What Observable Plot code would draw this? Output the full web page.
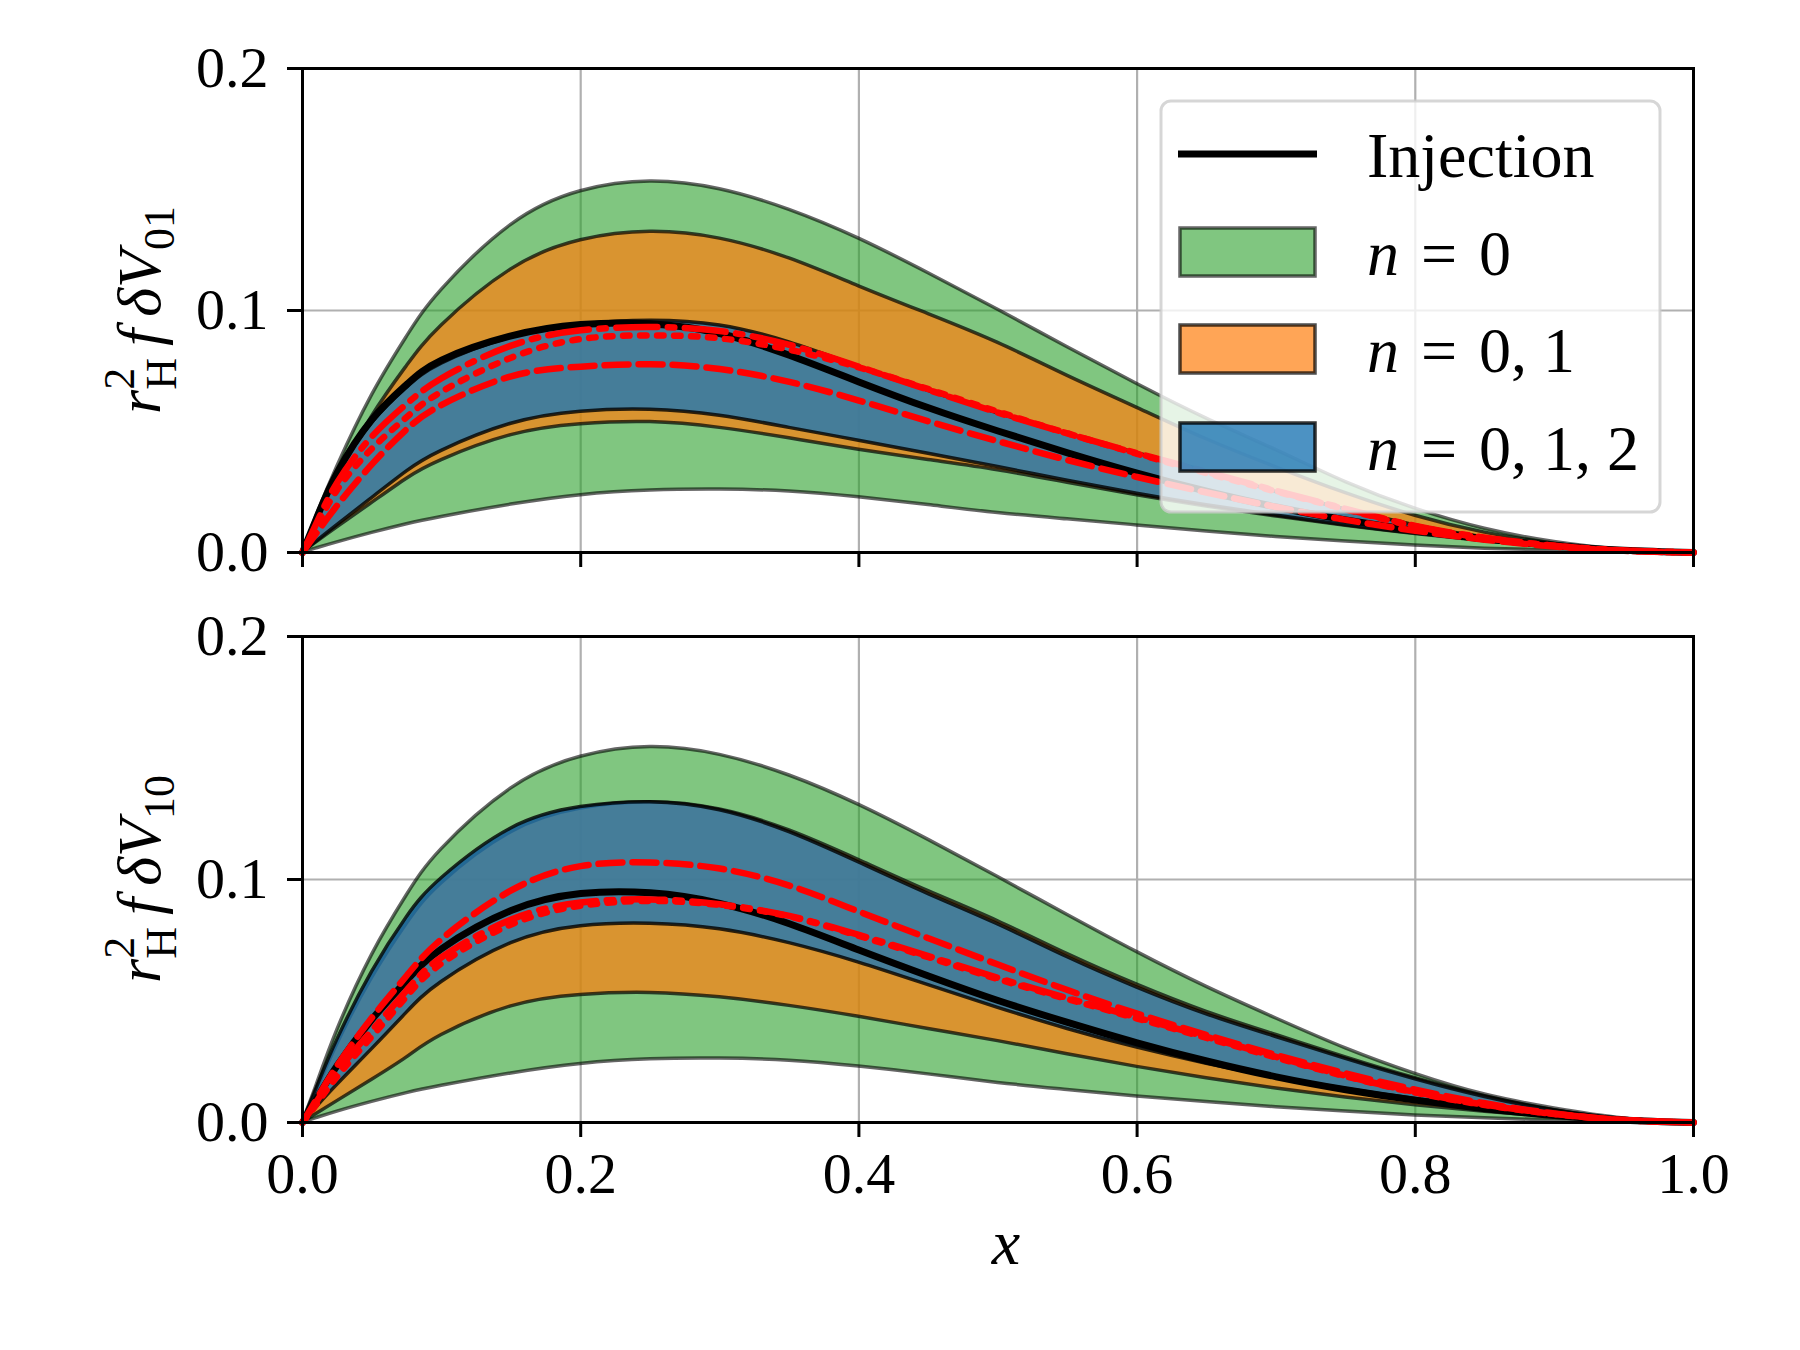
<!DOCTYPE html>
<html><head><meta charset="utf-8">
<script src="https://cdn.jsdelivr.net/npm/d3@7"></script>
<script src="https://cdn.jsdelivr.net/npm/@observablehq/plot@0.6"></script>
<style>
body{margin:0;background:#fff;}
#fig{position:relative;width:1800px;height:1350px;background:#fff;}
#fig svg{position:absolute;left:0;}
</style></head><body><div id="fig"></div>
<script>
// ---- data ----
const xs = [0, 0.01, 0.025, 0.05, 0.075, 0.1, 0.15, 0.2, 0.25, 0.3, 0.35, 0.4, 0.45, 0.5, 0.55, 0.6, 0.65, 0.7, 0.75, 0.8, 0.85, 0.9, 0.95, 1.0];
const xTicks = [0, 0.2, 0.4, 0.6, 0.8, 1.0];
const yTicks = [0, 0.1, 0.2];

// upper panel, delta V_01
const greenHi01  = [0, 0.0149, 0.0354, 0.065, 0.0891, 0.1085, 0.1354, 0.1493, 0.1533, 0.1501, 0.1416, 0.1297, 0.1154, 0.1003, 0.0848, 0.0696, 0.0553, 0.0423, 0.0291, 0.0181, 0.0098, 0.0043, 0.0011, 0];
const greenLo01  = [0, 0.0017, 0.0042, 0.0081, 0.0117, 0.0147, 0.0198, 0.0237, 0.0256, 0.0260, 0.0252, 0.0228, 0.0196, 0.0163, 0.0137, 0.0112, 0.0087, 0.0064, 0.0045, 0.0029, 0.0016, 0.0008, 0.0002, 0];
const orangeHi01 = [0, 0.0129, 0.0306, 0.0562, 0.077, 0.0938, 0.117, 0.129, 0.1325, 0.1297, 0.1215, 0.110, 0.0985, 0.0866, 0.073, 0.0598, 0.0468, 0.0352, 0.0245, 0.0152, 0.0082, 0.0036, 0.0009, 0];
const orangeLo01 = [0, 0.0042, 0.0104, 0.0205, 0.0305, 0.0382, 0.0485, 0.053, 0.0539, 0.0515, 0.0472, 0.0425, 0.0382, 0.034, 0.0288, 0.0236, 0.019, 0.0149, 0.011, 0.0076, 0.0046, 0.0021, 0.0006, 0];
const blueHi01   = [0, 0.0135, 0.032, 0.0535, 0.068, 0.078, 0.0888, 0.0942, 0.0958, 0.0938, 0.0868, 0.0768, 0.0668, 0.0575, 0.049, 0.041, 0.0335, 0.025, 0.0178, 0.0112, 0.0062, 0.0029, 0.0008, 0];
const blueLo01   = [0, 0.0045, 0.0113, 0.0225, 0.0335, 0.042, 0.0532, 0.0582, 0.059, 0.0565, 0.0515, 0.0462, 0.0408, 0.0353, 0.0297, 0.0243, 0.0195, 0.0153, 0.0113, 0.0078, 0.0047, 0.0022, 0.0006, 0];
const injection01 = [0, 0.014, 0.033, 0.055, 0.0695, 0.0795, 0.0895, 0.0942, 0.0945, 0.0905, 0.0815, 0.0705, 0.0598, 0.0502, 0.0412, 0.0328, 0.0253, 0.0188, 0.0135, 0.0092, 0.0057, 0.0029, 0.0009, 0];
const dashed01   = [0, 0.008, 0.0195, 0.0365, 0.051, 0.061, 0.0728, 0.0768, 0.0778, 0.0758, 0.0705, 0.0628, 0.0542, 0.046, 0.0382, 0.0312, 0.0248, 0.0188, 0.0135, 0.009, 0.0053, 0.0025, 0.0007, 0];
const dotted01   = [0, 0.0105, 0.026, 0.043, 0.056, 0.0665, 0.0805, 0.0882, 0.0897, 0.0885, 0.0838, 0.0765, 0.0675, 0.0582, 0.0492, 0.0408, 0.0328, 0.0252, 0.0178, 0.0108, 0.006, 0.0028, 0.0008, 0];
const dashdot01  = [0, 0.012, 0.029, 0.048, 0.0615, 0.072, 0.0855, 0.0918, 0.0932, 0.0915, 0.0858, 0.0768, 0.0672, 0.0578, 0.0492, 0.041, 0.0333, 0.0255, 0.018, 0.011, 0.0061, 0.0028, 0.0008, 0];

// lower panel, delta V_10
const greenHi10  = [0, 0.0151, 0.038, 0.069, 0.0935, 0.1125, 0.1375, 0.1505, 0.1545, 0.1513, 0.1428, 0.1307, 0.1163, 0.101, 0.0854, 0.0701, 0.0558, 0.0428, 0.0305, 0.020, 0.0115, 0.0058, 0.0017, 0];
const greenLo10  = [0, 0.0018, 0.0045, 0.0085, 0.0121, 0.0151, 0.0202, 0.0241, 0.026, 0.0263, 0.0254, 0.0230, 0.0198, 0.0163, 0.0134, 0.0107, 0.0084, 0.0063, 0.0045, 0.0029, 0.0017, 0.0008, 0.0002, 0];
const orangeHi10 = [0, 0.0128, 0.0322, 0.0595, 0.0818, 0.0985, 0.1195, 0.1292, 0.1318, 0.1288, 0.1202, 0.108, 0.0952, 0.0828, 0.0693, 0.0567, 0.0455, 0.036, 0.0268, 0.0182, 0.0108, 0.0051, 0.0015, 0];
const orangeLo10 = [0, 0.0035, 0.0088, 0.0176, 0.0268, 0.036, 0.0478, 0.0525, 0.0533, 0.0515, 0.048, 0.0435, 0.0385, 0.0335, 0.0281, 0.0229, 0.0182, 0.014, 0.0103, 0.0071, 0.0044, 0.0022, 0.0006, 0];
const blueHi10   = [0, 0.0138, 0.034, 0.062, 0.0845, 0.1005, 0.121, 0.1298, 0.1318, 0.1285, 0.1195, 0.107, 0.094, 0.0815, 0.068, 0.0555, 0.0445, 0.0352, 0.0262, 0.0178, 0.0105, 0.0049, 0.0014, 0];
const blueLo10   = [0, 0.0062, 0.0155, 0.0302, 0.0452, 0.0578, 0.0738, 0.0808, 0.0818, 0.0795, 0.0738, 0.0658, 0.0565, 0.0472, 0.0385, 0.0308, 0.0242, 0.0186, 0.0138, 0.0097, 0.0063, 0.0035, 0.0011, 0];
const injection10 = [0, 0.0095, 0.0235, 0.0425, 0.0585, 0.0715, 0.0872, 0.0942, 0.0945, 0.0902, 0.0818, 0.071, 0.0603, 0.0502, 0.0412, 0.0328, 0.0253, 0.0188, 0.0135, 0.0092, 0.0057, 0.0029, 0.0009, 0];
const dashed10   = [0, 0.0095, 0.0235, 0.0432, 0.0605, 0.0755, 0.0955, 0.1055, 0.107, 0.1045, 0.0975, 0.0868, 0.0758, 0.065, 0.0545, 0.0448, 0.036, 0.0278, 0.0202, 0.0135, 0.0079, 0.0037, 0.001, 0];
const dotted10   = [0, 0.0075, 0.019, 0.0355, 0.052, 0.0655, 0.0815, 0.0892, 0.0912, 0.0895, 0.0848, 0.0768, 0.068, 0.059, 0.0508, 0.0428, 0.0348, 0.0267, 0.019, 0.0123, 0.0072, 0.0035, 0.001, 0];
const dashdot10  = [0, 0.0085, 0.021, 0.038, 0.0545, 0.068, 0.0835, 0.0905, 0.0918, 0.0898, 0.085, 0.0772, 0.0685, 0.0595, 0.0512, 0.0432, 0.0352, 0.027, 0.0192, 0.0125, 0.0073, 0.0035, 0.001, 0];

const legendLabels = ["Injection", "n = 0", "n = 0, 1", "n = 0, 1, 2"];

// ---- build ----
const FONT = "'Liberation Serif','Times New Roman',serif";
function rowsFor(s) {
  return xs.map((x, i) => ({
    x, gLo: s.gLo[i], gHi: s.gHi[i], oLo: s.oLo[i], oHi: s.oHi[i],
    bLo: s.bLo[i], bHi: s.bHi[i], inj: s.inj[i], dash: s.dash[i], dot: s.dot[i], dd: s.dd[i]
  }));
}
const curve = "natural";
function panel(rows, {height, marginTop, marginBottom, showXLabels}) {
  return Plot.plot({
    width: 1800, height, marginTop, marginBottom, marginLeft: 302, marginRight: 107,
    style: {fontFamily: FONT, fontSize: "58px", color: "black", background: "transparent", overflow: "visible"},
    x: {domain: [0, 1]},
    y: {domain: [0, 0.2]},
    marks: [
      Plot.gridX({ticks: xTicks, stroke: "#b0b0b0", strokeOpacity: 1, strokeWidth: 2.2}),
      Plot.gridY({ticks: yTicks, stroke: "#b0b0b0", strokeOpacity: 1, strokeWidth: 2.2}),
      Plot.areaY(rows, {x: "x", y1: "gLo", y2: "gHi", curve, fill: "#2ca02c", fillOpacity: 0.6, stroke: "black", strokeOpacity: 0.6, strokeWidth: 3.5}),
      Plot.areaY(rows, {x: "x", y1: "oLo", y2: "oHi", curve, fill: "#ff7f0e", fillOpacity: 0.7, stroke: "black", strokeOpacity: 0.7, strokeWidth: 3.5}),
      Plot.areaY(rows, {x: "x", y1: "bLo", y2: "bHi", curve, fill: "#1f77b4", fillOpacity: 0.8, stroke: "black", strokeOpacity: 0.8, strokeWidth: 3.5}),
      Plot.lineY(rows, {x: "x", y: "inj", curve, stroke: "black", strokeWidth: 7}),
      Plot.lineY(rows, {x: "x", y: "dash", curve, stroke: "red", strokeWidth: 6.5, strokeDasharray: "24,10"}),
      Plot.lineY(rows, {x: "x", y: "dot", curve, stroke: "red", strokeWidth: 6.5, strokeDasharray: "6.5,10.5"}),
      Plot.lineY(rows, {x: "x", y: "dd", curve, stroke: "red", strokeWidth: 6.5, strokeDasharray: "41,10.5,6.5,10.5"}),
      Plot.frame({stroke: "black", strokeWidth: 3}),
      Plot.axisX({ticks: xTicks, tickSize: 15, strokeWidth: 3, tickPadding: 14, label: null,
                  tickFormat: showXLabels ? d3.format(".1f") : () => ""}),
      Plot.axisY({ticks: yTicks, tickSize: 15, strokeWidth: 3, tickPadding: 19, label: null,
                  tickFormat: d3.format(".1f")})
    ]
  });
}

const fig = document.getElementById("fig");
const topRows = rowsFor({gLo: greenLo01, gHi: greenHi01, oLo: orangeLo01, oHi: orangeHi01, bLo: blueLo01, bHi: blueHi01,
  inj: injection01, dash: dashed01, dot: dotted01, dd: dashdot01});
const botRows = rowsFor({gLo: greenLo10, gHi: greenHi10, oLo: orangeLo10, oHi: orangeHi10, bLo: blueLo10, bHi: blueHi10,
  inj: injection10, dash: dashed10, dot: dotted10, dd: dashdot10});

const svgTop = panel(topRows, {height: 600, marginTop: 68, marginBottom: 48, showXLabels: false});
svgTop.style.top = "0px";
const svgBot = panel(botRows, {height: 750, marginTop: 36, marginBottom: 228, showXLabels: true});
svgBot.style.top = "600px";
fig.appendChild(svgTop);
fig.appendChild(svgBot);

// y labels  r_H^2 f δV_ij
function yLabel(svg, cy, sub) {
  const t = d3.select(svg).append("text")
    .attr("transform", `translate(160,${cy}) rotate(-90)`)
    .attr("text-anchor", "middle").attr("font-family", FONT).attr("font-size", 62).attr("fill", "black");
  t.append("tspan").attr("font-style", "italic").text("r");
  t.append("tspan").attr("font-size", 44).attr("dy", -26).text("2");
  t.append("tspan").attr("font-size", 44).attr("dx", -22).attr("dy", 42).text("H");
  t.append("tspan").attr("font-style", "italic").attr("dx", 12).attr("dy", -16).text("f");
  t.append("tspan").attr("font-style", "italic").attr("dx", 12).text("δ");
  t.append("tspan").attr("font-style", "italic").text("V");
  t.append("tspan").attr("font-size", 44).attr("dy", 14).text(sub);
}
yLabel(svgTop, 310, "01");
yLabel(svgBot, 279, "10");

// x label
d3.select(svgBot).append("text").attr("x", 1006).attr("y", 664).attr("text-anchor", "middle")
  .attr("font-family", FONT).attr("font-size", 64).attr("font-style", "italic").attr("fill", "black").text("x");

// legend in upper panel
const lg = d3.select(svgTop).append("g").attr("font-family", FONT).attr("font-size", 64)
  .attr("fill", "black").attr("text-anchor", "start");
lg.append("rect").attr("x", 1161).attr("y", 101).attr("width", 499).attr("height", 411).attr("rx", 10)
  .attr("fill", "white").attr("fill-opacity", 0.8).attr("stroke", "#cccccc").attr("stroke-opacity", 0.8).attr("stroke-width", 3);
lg.append("line").attr("x1", 1178).attr("x2", 1317).attr("y1", 154).attr("y2", 154).attr("stroke", "black").attr("stroke-width", 7);
const patches = [
  {y: 228, fill: "#2ca02c", a: 0.6},
  {y: 325, fill: "#ff7f0e", a: 0.7},
  {y: 423, fill: "#1f77b4", a: 0.8}
];
patches.forEach(p => lg.append("rect").attr("x", 1180).attr("y", p.y).attr("width", 135).attr("height", 48)
  .attr("fill", p.fill).attr("fill-opacity", p.a).attr("stroke", "black").attr("stroke-opacity", p.a).attr("stroke-width", 3.5));
const baselines = [177, 275, 372, 470];
legendLabels.forEach((lab, i) => {
  const t = lg.append("text").attr("x", 1367).attr("y", baselines[i]).attr("text-anchor", "start");
  if (i === 0) { t.text(lab); return; }
  const parts = lab.split(" = ");
  t.append("tspan").attr("font-style", "italic").text(parts[0]);
  t.append("tspan").attr("dx", 22).text("=");
  t.append("tspan").attr("dx", 22).text(parts[1]);
});
</script></body></html>
